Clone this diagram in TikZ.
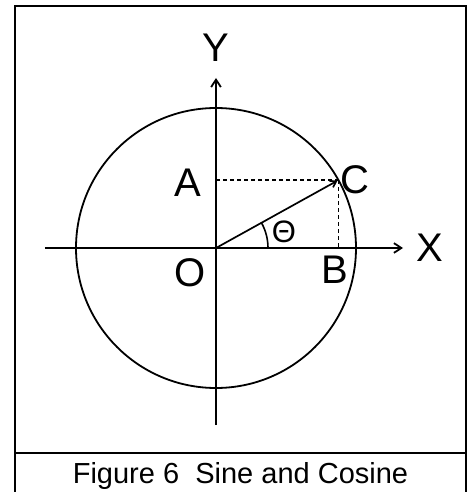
\documentclass[tikz,border=0pt]{standalone}
\usepackage{fontspec}
\setmainfont{Liberation Sans}
\usetikzlibrary{arrows.meta, positioning}

\begin{document}
\begin{tikzpicture}[
    x=1pt, y=1pt,
    lbl/.style={font=\fontsize{40}{40}\selectfont, inner sep=0pt},
    axis/.style={-{Straight Barb[length=2.6mm, width=3.4mm]}, line width=1.8pt},
    guide/.style={dash pattern=on 4pt off 3pt, line width=1.4pt},
]
\useasboundingbox (-216,-244) rectangle (254,248);

% frame and caption box
\draw[line width=2.6pt] (-201,-260) -- (-201,242) -- (250,242) -- (250,-260);
\draw[line width=2.2pt] (-201,-205) -- (250,-205);
\node[font=\fontsize{29}{29}\selectfont, anchor=base, inner sep=0pt] (cap) at (24.5,-235.5) {Figure 6\ \ Sine and Cosine};

% points
\coordinate (o) at (0,0);
\coordinate (c) at (29:140);
\coordinate (a) at (o |- c);
\coordinate (b) at (c |- o);
\coordinate (xl) at (-171,0);
\coordinate (xr) at (187,0);
\coordinate (yb) at (0,-177);
\coordinate (yt) at (0,170);

\draw[line width=1.8pt] (o) circle (140);
\draw[axis] (xl) -- (xr);
\draw[axis] (yb) -- (yt);
\draw[guide] (a) -- (c);
\draw[guide] (c) -- (b);
\draw[-{Straight Barb[length=2mm, width=2.6mm]}, line width=1.7pt, shorten >=1pt] (o) -- (c);
\draw[line width=1.6pt] (52,0) arc[start angle=0, end angle=29, radius=52];

% labels
\node[lbl] (ylbl) at (0,200) {Y};
\node[lbl] (xlbl) at (214,0) {X};
\node[lbl] (albl) at (-28,65) {A};
\node[lbl] (clbl) at (139,68) {C};
\node[lbl] (olbl) at (-26,-25) {O};
\node[lbl] (blbl) at (119,-22) {B};
\node[font=\fontsize{31}{31}\selectfont, inner sep=0pt] (tlbl) at (68,16) {Θ};
\end{tikzpicture}
\end{document}
